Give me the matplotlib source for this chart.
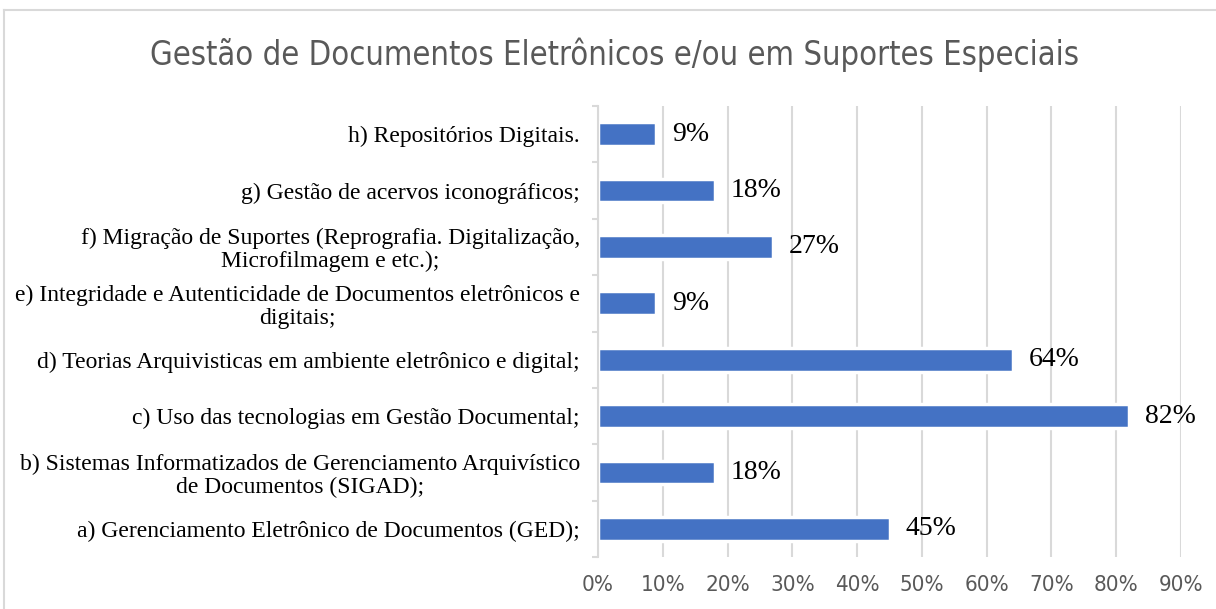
import matplotlib
matplotlib.use("Agg")
import matplotlib.pyplot as plt
from matplotlib.lines import Line2D
from matplotlib.ticker import FixedLocator, FuncFormatter
import numpy as np

title = "Gestão de Documentos Eletrônicos e/ou em Suportes Especiais"
categories = [
    "a) Gerenciamento Eletrônico de Documentos (GED);",
    "b) Sistemas Informatizados de Gerenciamento Arquivístico\nde Documentos (SIGAD);",
    "c) Uso das tecnologias em Gestão Documental;",
    "d) Teorias Arquivisticas em ambiente eletrônico e digital;",
    "e) Integridade e Autenticidade de Documentos eletrônicos e\ndigitais;",
    "f) Migração de Suportes (Reprografia. Digitalização,\nMicrofilmagem e etc.);",
    "g) Gestão de acervos iconográficos;",
    "h) Repositórios Digitais.",
]
values = [45, 18, 82, 64, 9, 27, 18, 9]
xticks = [0, 10, 20, 30, 40, 50, 60, 70, 80, 90]

W, H = 1216, 609
fig = plt.figure(figsize=(W / 100, H / 100), dpi=100)
fig.patch.set_facecolor("white")

# chart border (partially cropped)
fig.add_artist(Line2D([4 / W, 4 / W], [0, 1 - 10 / H], color="#d9d9d9", lw=1.5, transform=fig.transFigure))
fig.add_artist(Line2D([4 / W, 1.0], [1 - 10 / H, 1 - 10 / H], color="#d9d9d9", lw=1.5, transform=fig.transFigure))

left, right, top, bottom = 598, 1181, 106, 557
ax = fig.add_axes([left / W, 1 - bottom / H, (right - left) / W, (bottom - top) / H])

y = np.arange(len(categories))
ax.barh(y, values, height=0.42, color="#4472C4", edgecolor="white", linewidth=2.5, zorder=3)
ax.set_xlim(0, 90)
ax.set_ylim(-0.5, len(categories) - 0.5)

for yi, v in zip(y, values):
    ax.annotate(f"{v}%", (v, yi), xytext=(16, 0), textcoords="offset pixels",
                ha="left", va="center", fontsize=20, family="Liberation Serif",
                color="#000000", zorder=4)

ax.set_xticks(xticks)
ax.xaxis.set_major_formatter(FuncFormatter(lambda v, p: f"{int(v)}%"))
ax.tick_params(axis="x", length=0, pad=13, labelsize=16, labelcolor="#595959")
for lab in ax.get_xticklabels():
    lab.set_family("DejaVu Sans")
    lab.set_fontstretch("condensed")
ax.grid(axis="x", color="#d9d9d9", lw=1.5, zorder=0)
ax.set_axisbelow(True)

ax.set_yticks(y)
ax.set_yticklabels(categories, fontsize=17, family="Liberation Serif", color="#000000",
                   multialignment="center", linespacing=1.1)
ax.tick_params(axis="y", which="major", length=0, pad=13)
ax.yaxis.set_minor_locator(FixedLocator(np.arange(-0.5, len(categories), 1.0)))
ax.tick_params(axis="y", which="minor", length=4, width=1.5, color="#d9d9d9", direction="out")

for s in ["top", "right", "bottom"]:
    ax.spines[s].set_visible(False)
ax.spines["left"].set_color("#d9d9d9")
ax.spines["left"].set_linewidth(1.5)
ax.spines["left"].set_zorder(5)

fig.text(614 / W, 1 - 55 / H, title, ha="center", va="center", fontsize=23.5,
         color="#595959", family="DejaVu Sans", fontstretch="condensed")

fig.savefig("out.png", dpi=100, facecolor="white")
